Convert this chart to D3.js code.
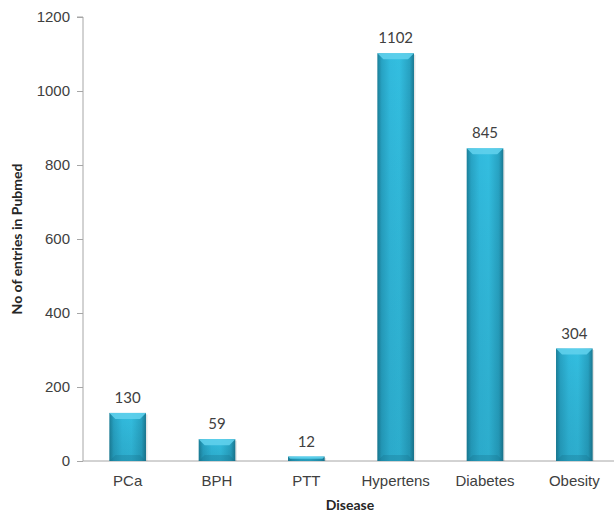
<!DOCTYPE html>
<html>
<head>
<meta charset="utf-8">
<script src="https://cdn.jsdelivr.net/npm/d3@7"></script>
<style>
  body { margin: 0; background: #fff; }
  svg { display: block; font-family: Lato, "Open Sans", "Liberation Sans", sans-serif; }
</style>
</head>
<body>
<svg id="chart" width="614" height="516"></svg>
<script>
const categories = ["PCa", "BPH", "PTT", "Hypertens", "Diabetes", "Obesity"];
const entries = [130, 59, 12, 1102, 845, 304];
const yTicks = [0, 200, 400, 600, 800, 1000, 1200];

const svg = d3.select("#chart");
const axisLeftX = 83;

const x = d3.scaleBand().domain(categories).range([83, 619]).paddingInner(0.59).paddingOuter(0.295);
const y = d3.scaleLinear().domain([0, 1200]).range([461, 17]);

const defs = svg.append("defs");
const grad = defs.append("linearGradient").attr("id", "barGrad").attr("x1", 0).attr("x2", 1).attr("y1", 0).attr("y2", 0);
[[0, "#1b7f99"], [0.12, "#27a3c4"], [0.35, "#31badd"], [0.6, "#33bee0"], [0.88, "#27a2c2"], [1, "#1a7891"]]
  .forEach(([o, c]) => grad.append("stop").attr("offset", o).attr("stop-color", c));
const vgrad = defs.append("linearGradient").attr("id", "shade").attr("x1", 0).attr("x2", 0).attr("y1", 0).attr("y2", 1);
vgrad.append("stop").attr("offset", 0).attr("stop-color", "#000").attr("stop-opacity", 0);
vgrad.append("stop").attr("offset", 1).attr("stop-color", "#003040").attr("stop-opacity", 0.12);

// Axes
const yAxis = svg.append("g").attr("transform", `translate(${axisLeftX},0)`)
  .call(d3.axisLeft(y).tickValues(yTicks).tickFormat(d3.format("d")).tickSize(6).tickPadding(7));
yAxis.select(".domain").attr("stroke", "#a6a6a6").attr("d", `M-6,${y(1200)}H0V${y(0)}`);
yAxis.selectAll(".tick line").attr("stroke", "#a6a6a6");
yAxis.selectAll(".tick text").attr("fill", "#404040").style("font-size", "15px");

svg.append("line").attr("x1", axisLeftX).attr("x2", 614).attr("y1", y(0)).attr("y2", y(0))
  .attr("stroke", "#a6a6a6");

const xAxis = svg.append("g").attr("transform", `translate(0,${y(0)})`)
  .call(d3.axisBottom(x).tickSize(0).tickPadding(14));
xAxis.select(".domain").remove();
xAxis.selectAll(".tick text").attr("fill", "#404040").style("font-size", "15px");

// Bars with a bevelled, cylindrical look
const bars = svg.append("g").selectAll("g").data(categories).join("g");
bars.each(function (c, i) {
  const g = d3.select(this);
  const bx = x(c), bw = x.bandwidth(), top = y(entries[i]), h = y(0) - top;
  g.append("rect").attr("x", bx + 1.5).attr("y", top + 1.5).attr("width", bw).attr("height", h - 1.5)
    .attr("fill", "#000").attr("opacity", 0.1);
  g.append("rect").attr("x", bx).attr("y", top).attr("width", bw).attr("height", h).attr("fill", "url(#barGrad)");
  g.append("rect").attr("x", bx).attr("y", top).attr("width", bw).attr("height", h).attr("fill", "url(#shade)");
  const bev = Math.min(6, h / 2);
  g.append("path")
    .attr("d", `M${bx},${top}H${bx + bw}L${bx + bw - bev},${top + bev}H${bx + bev}Z`)
    .attr("fill", "#5fd0ec").attr("opacity", 0.9);
  g.append("path")
    .attr("d", `M${bx},${y(0)}H${bx + bw}L${bx + bw - bev},${y(0) - bev}H${bx + bev}Z`)
    .attr("fill", "#16728a").attr("opacity", 0.3);
});

// Value labels
svg.append("g").selectAll("text").data(categories).join("text")
  .attr("x", c => x(c) + x.bandwidth() / 2)
  .attr("y", (c, i) => y(entries[i]) - 10)
  .attr("text-anchor", "middle").attr("fill", "#404040").style("font-size", "15px")
  .text((c, i) => entries[i]);

// Axis titles
svg.append("text").attr("transform", `translate(22,239) rotate(-90)`).attr("text-anchor", "middle")
  .attr("font-weight", "bold").style("font-size", "14px").attr("fill", "#262626")
  .text("No of entries in Pubmed");
svg.append("text").attr("x", 350).attr("y", 510).attr("text-anchor", "middle")
  .attr("font-weight", "bold").style("font-size", "14px").attr("fill", "#262626")
  .text("Disease");
</script>
</body>
</html>
